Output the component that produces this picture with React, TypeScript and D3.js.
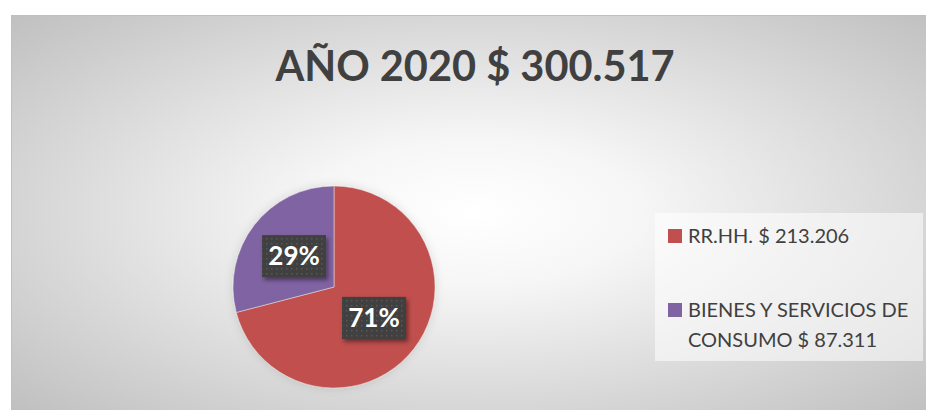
import React from 'react';
import * as d3 from 'd3';

const width = 926;
const height = 410;

const title = 'AÑO 2020 $ 300.517';
const categories = ['RR.HH.', 'BIENES Y SERVICIOS DE CONSUMO'];
const amounts = [213206, 87311];
const legendLines = [['RR.HH. $ 213.206'], ['BIENES Y SERVICIOS DE', 'CONSUMO $ 87.311']];
const colors = ['#C0504D', '#8064A2'];

const font = 'Lato, "Open Sans", sans-serif';

const App = () => {
  const data = categories.map((c, i) => ({ name: c, value: amounts[i] }));
  const total = d3.sum(amounts);
  const fmt = d3.format('.0%');

  const cx = 334;
  const cy = 287;
  const radius = 101;

  const pie = d3.pie<any>().sort(null).value(d => d.value);
  const arcs = pie(data);
  const arc = d3.arc<any>().innerRadius(0).outerRadius(radius);

  const color = d3.scaleOrdinal<string, string>().domain(categories).range(colors);

  const legendX = 668;
  const legendY = [229, 303];

  return (
    <svg width={width} height={height} style={{ position: 'absolute', left: 0, top: 0, display: 'block' }}>
      <defs>
        <radialGradient id="bg" cx="50%" cy="48%" r="72%">
          <stop offset="0%" stopColor="#ffffff" />
          <stop offset="25%" stopColor="#f6f6f6" />
          <stop offset="100%" stopColor="#bdbdbd" />
        </radialGradient>
        <pattern id="dots" width="5" height="5" patternUnits="userSpaceOnUse">
          <rect width="5" height="5" fill="#3f3f3f" />
          <rect x="2" y="2" width="1.5" height="1.5" fill="#5a5a5a" />
        </pattern>
        <filter id="shadow" x="-20%" y="-20%" width="150%" height="150%">
          <feDropShadow dx="2" dy="3" stdDeviation="2" floodColor="#000" floodOpacity="0.45" />
        </filter>
        <filter id="pieShadow" x="-20%" y="-20%" width="140%" height="140%">
          <feDropShadow dx="0" dy="0" stdDeviation="5" floodColor="#000" floodOpacity="0.12" />
        </filter>
      </defs>

      <rect x={0} y={0} width={width} height={height} fill="#fff" />
      <rect x={11.5} y={15.5} width={width} height={height} fill="url(#bg)" stroke="#bfbfbf" />

      <text
        x={475}
        y={81}
        textAnchor="middle"
        fontFamily={font}
        fontWeight="bold"
        fontSize={41.5}
        fill="#404040"
      >
        {title}
      </text>

      <g transform={`translate(${cx},${cy})`}>
        <g filter="url(#pieShadow)">
          {arcs.map((a, i) => (
            <path key={i} d={arc(a) || ''} fill={color(a.data.name)} stroke="#e8e8e8" strokeWidth={0.5} />
          ))}
        </g>
        {arcs.map((a, i) => {
          const [lx, ly] = arc.centroid(a);
          return (
            <g key={'l' + i} transform={`translate(${lx},${ly})`}>
              <rect x={-32} y={-21} width={64} height={42} fill="url(#dots)" filter="url(#shadow)" />
              <text
                y={9}
                textAnchor="middle"
                fontFamily={font}
                fontWeight="bold"
                fontSize={26}
                fill="#fff"
              >
                {fmt(a.data.value / total)}
              </text>
            </g>
          );
        })}
      </g>

      <rect x={655} y={213} width={268} height={148} fill="#fff" fillOpacity={0.55} />
      {categories.map((c, i) => (
        <g key={c} transform={`translate(${legendX},${legendY[i]})`}>
          <rect x={0} y={0} width={14} height={14} fill={color(c)} />
          {legendLines[i].map((line, j) => (
            <text
              key={j}
              x={20}
              y={14 + j * 30}
              fontFamily={font}
              fontSize={20}
              fill="#404040"
            >
              {line}
            </text>
          ))}
        </g>
      ))}
    </svg>
  );
};

export default App;
